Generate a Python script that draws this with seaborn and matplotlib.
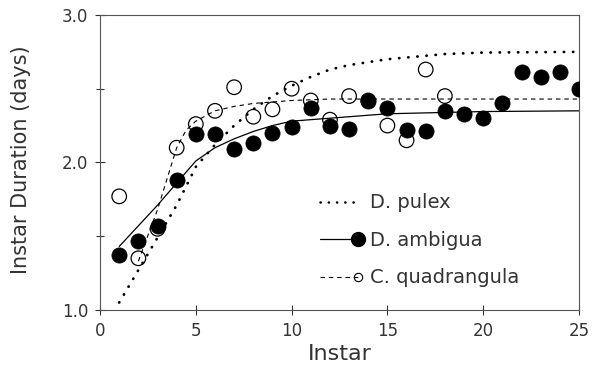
import numpy as np
import pandas as pd
import matplotlib
matplotlib.use("Agg")
import matplotlib.pyplot as plt
from matplotlib.legend_handler import HandlerLine2D
from matplotlib.lines import Line2D
import seaborn as sns

# observed instar durations (days)
ambigua_instar = list(range(1, 26))
ambigua_days = [1.37, 1.47, 1.57, 1.88, 2.19, 2.19, 2.09, 2.13, 2.20, 2.24,
                2.37, 2.25, 2.23, 2.42, 2.37, 2.22, 2.21, 2.35, 2.33, 2.30,
                2.40, 2.61, 2.58, 2.61, 2.50]

quad_instar = list(range(1, 19))
quad_days = [1.77, 1.35, 1.55, 2.10, 2.26, 2.35, 2.51, 2.31, 2.36, 2.50,
             2.42, 2.29, 2.45, 2.42, 2.25, 2.15, 2.63, 2.45]

# fitted curves
pulex_fit_x = [1, 2, 3, 4, 5, 6, 7, 8, 9, 10, 11, 12, 13, 15, 18, 20, 25]
pulex_fit_y = [1.05, 1.27, 1.49, 1.71, 1.97, 2.12, 2.25, 2.36, 2.45, 2.52,
               2.58, 2.63, 2.66, 2.70, 2.735, 2.745, 2.75]

ambigua_fit_x = [1, 2, 3, 4, 5, 6, 7, 8, 9, 10, 11, 13, 15, 20, 25]
ambigua_fit_y = [1.43, 1.57, 1.71, 1.86, 2.01, 2.10, 2.16, 2.21, 2.25, 2.28,
                 2.29, 2.31, 2.33, 2.345, 2.35]

quad_fit_x = [2, 3, 4, 4.5, 5, 6, 7, 8, 9, 10, 12, 25]
quad_fit_y = [1.33, 1.68, 2.10, 2.22, 2.28, 2.35, 2.38, 2.40, 2.41, 2.42, 2.43, 2.43]

amb = pd.DataFrame({"instar": ambigua_instar, "days": ambigua_days})
quad = pd.DataFrame({"instar": quad_instar, "days": quad_days})
pulex_fit = pd.DataFrame({"instar": pulex_fit_x, "days": pulex_fit_y})
amb_fit = pd.DataFrame({"instar": ambigua_fit_x, "days": ambigua_fit_y})
quad_fit = pd.DataFrame({"instar": quad_fit_x, "days": quad_fit_y})

sns.set_style("ticks")
plt.rcParams["font.family"] = ["DejaVu Sans"]

DOTS = (0, (0.1, 3.2))
DASHES = (0, (4, 3.5))

fig = plt.figure(figsize=(5.92, 3.84), dpi=100)
ax = fig.add_axes([0.169, 0.193, 0.809, 0.768])

sns.lineplot(data=pulex_fit, x="instar", y="days", ax=ax, color="black",
             linewidth=2.0, linestyle=DOTS, dash_capstyle="round")
sns.lineplot(data=amb_fit, x="instar", y="days", ax=ax, color="black", linewidth=0.9)
sns.lineplot(data=quad_fit, x="instar", y="days", ax=ax, color="black",
             linewidth=0.8, linestyle=DASHES)

sns.scatterplot(data=quad, x="instar", y="days", ax=ax, marker="o", s=110,
                facecolor="none", edgecolor="black", linewidth=0.9, zorder=3)
sns.scatterplot(data=amb, x="instar", y="days", ax=ax, marker="o", s=120,
                color="black", edgecolor="black", linewidth=0.5, zorder=4)

ax.set_xlim(0, 25)
ax.set_ylim(1.0, 3.0)
ax.set_xticks([0, 5, 10, 15, 20, 25])
ax.set_yticks([1.0, 2.0, 3.0])
ax.set_yticks([1.5, 2.5], minor=True)
ax.set_yticklabels(["1.0", "2.0", "3.0"])
ax.tick_params(axis="both", which="major", direction="inout", length=7,
               width=0.8, labelsize=12, pad=5, color="#333333", labelcolor="#333333")
ax.tick_params(axis="y", which="minor", direction="inout", length=6, width=0.8,
               color="#333333")
for sp in ax.spines.values():
    sp.set_linewidth(0.8)
    sp.set_color("#555555")

ax.set_xlabel("Instar", fontsize=16, color="#333333")
ax.set_ylabel("Instar Duration (days)", fontsize=15, color="#333333")
ax.xaxis.set_label_coords(0.5, -0.115)
ax.yaxis.set_label_coords(-0.145, 0.51)


class EndMarkerHandler(HandlerLine2D):
    # put the legend marker at the right end of the sample line
    def create_artists(self, legend, orig_handle, xdescent, ydescent,
                       width, height, fontsize, trans):
        artists = super().create_artists(legend, orig_handle, xdescent, ydescent,
                                         width, height, fontsize, trans)
        line = artists[0]
        xd = np.asarray(line.get_xdata(), dtype=float)
        x0, x1 = xd[0], xd[-1]
        line.set_xdata([x0, x1 - 0.25 * fontsize, x1 - 0.25 * fontsize])
        line.set_markevery([1])
        return artists


h_pulex = Line2D([], [], color="black", linewidth=1.8, linestyle=DOTS,
                 dash_capstyle="round")
h_amb = Line2D([], [], color="black", linewidth=0.9, marker="o", markersize=10,
               markerfacecolor="black")
h_quad = Line2D([], [], color="black", linewidth=0.8, linestyle=DASHES,
                marker="o", markersize=6, markerfacecolor="none", markeredgewidth=0.8)
ax.legend([h_pulex, h_amb, h_quad], ["D. pulex", "D. ambigua", "C. quadrangula"],
          handler_map={Line2D: EndMarkerHandler(numpoints=1)},
          loc="upper left", bbox_to_anchor=(0.46, 0.395), frameon=False,
          fontsize=14, handlelength=2.2, handletextpad=0.35, labelspacing=0.95,
          borderpad=0, borderaxespad=0, labelcolor="#333333")

fig.savefig("out.png", dpi=100)
